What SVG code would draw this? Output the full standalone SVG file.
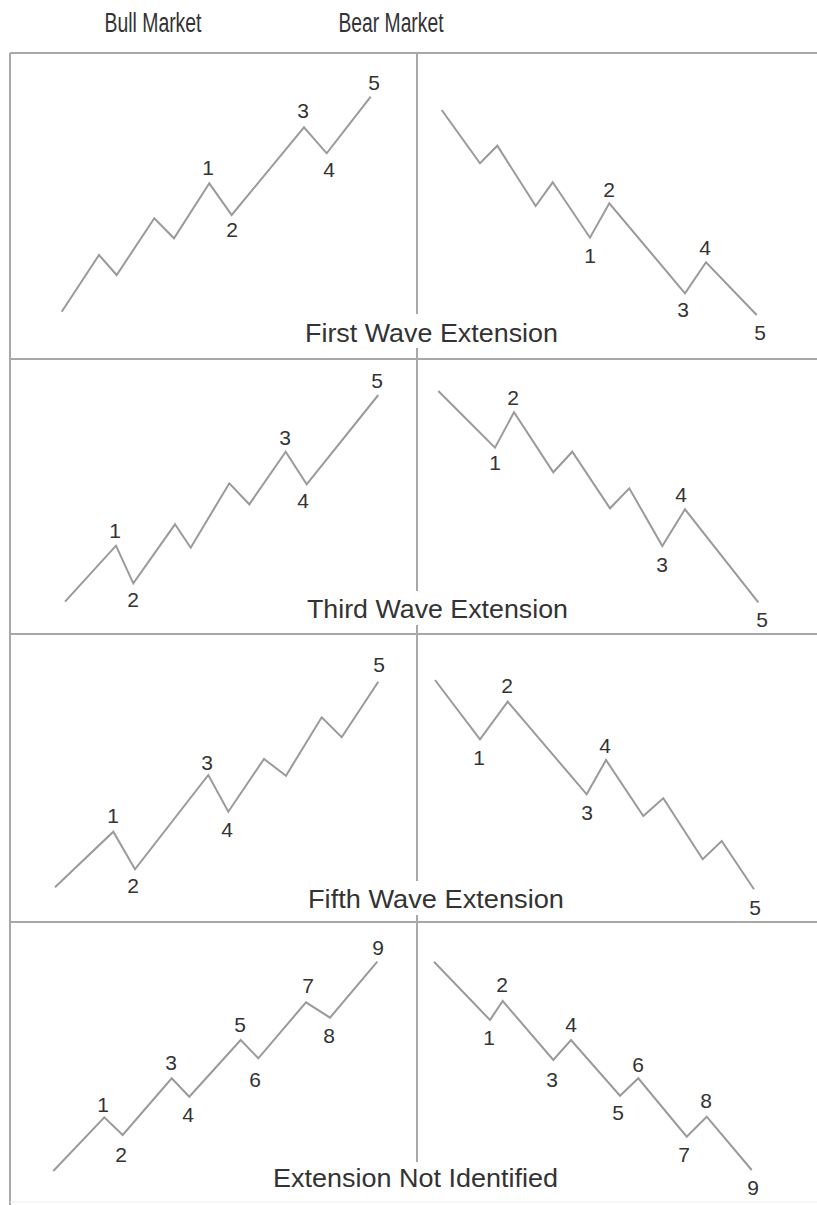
<svg xmlns="http://www.w3.org/2000/svg" width="817" height="1205" viewBox="0 0 817 1205">
<style>
.frame{stroke:#a8a8a8;stroke-width:2;fill:none}
.wave{stroke:#9a9a9a;stroke-width:2;fill:none;stroke-linejoin:miter}
.num{font-family:"Liberation Sans",Arial,sans-serif;font-size:21px;fill:#333;text-anchor:middle}
.hdr{font-family:"Liberation Sans",Arial,sans-serif;font-size:27px;fill:#333;text-anchor:middle}
.cap{font-family:"Liberation Sans",Arial,sans-serif;font-size:26px;fill:#333;text-anchor:middle}
.bg{fill:#fff}
</style>
<rect width="817" height="1205" fill="#fff"/>
<g id="frame">
<line class="frame" x1="10" y1="53" x2="817" y2="53"/>
<line class="frame" x1="10" y1="359" x2="817" y2="359"/>
<line class="frame" x1="10" y1="634" x2="817" y2="634"/>
<line class="frame" x1="10" y1="922" x2="817" y2="922"/>
<line class="frame" x1="10" y1="53" x2="10" y2="1205"/>
<line class="frame" x1="417" y1="53" x2="417" y2="1162"/>
<line x1="10" y1="1202" x2="817" y2="1202" stroke="#eee" stroke-width="1"/>
</g>
<g id="headers">
<text class="hdr" x="153" y="32" textLength="97" lengthAdjust="spacingAndGlyphs">Bull Market</text>
<text class="hdr" x="391" y="32" textLength="105" lengthAdjust="spacingAndGlyphs">Bear Market</text>
</g>
<g id="captions">
<rect class="bg" x="296" y="314" width="272" height="34"/>
<text class="cap" x="431.5" y="341.7" textLength="253" lengthAdjust="spacingAndGlyphs">First Wave Extension</text>
<rect class="bg" x="298" y="591" width="278" height="34"/>
<text class="cap" x="437.5" y="618.3" textLength="261" lengthAdjust="spacingAndGlyphs">Third Wave Extension</text>
<rect class="bg" x="300" y="881" width="272" height="34"/>
<text class="cap" x="436" y="908.3" textLength="256" lengthAdjust="spacingAndGlyphs">Fifth Wave Extension</text>
<rect class="bg" x="265" y="1162" width="302" height="34"/>
<text class="cap" x="415.5" y="1186.7" textLength="285" lengthAdjust="spacingAndGlyphs">Extension Not Identified</text>
</g>
<g id="connectors">
<polyline class="wave" points="61.7,311.7 99,255 116.7,275 154.3,218.3 174,238.3 209.3,183.3 231.7,215 304,127.3 326.7,153.3 370.7,96.7"/>
<polyline class="wave" points="441.7,110 480,163.3 497.3,145.7 535.7,206 552.7,182.3 590,237.7 609.3,203.3 685,293.3 706,262.3 756.7,315"/>
<polyline class="wave" points="65,601.7 116,545.7 133.3,583.3 175,524.3 190.7,547.7 229.3,483.3 249.3,504.3 285.7,451.7 306.7,484.3 378.3,395"/>
<polyline class="wave" points="438.3,391 495,447.7 514,412.3 553.3,472.3 572.3,451.7 610,508.3 629.3,488.3 662.3,546 685,509.3 758.3,602.3"/>
<polyline class="wave" points="55,887.3 113.3,831.7 135,869.3 208.3,775 228.3,811.7 264,759 286,775.7 321.7,717.3 341.7,737.3 378.3,681.7"/>
<polyline class="wave" points="435,680 480,739.3 507.7,701.7 586.7,794.3 606,760 643.3,816 663.3,798.3 702.7,859.3 721.7,841 754,889.3"/>
<polyline class="wave" points="53.3,1171 104.3,1117.3 122.7,1135 171.7,1078.3 189.3,1096.7 240.7,1040 258.3,1058.3 306,1002.3 330,1017.7 377.3,961.7"/>
<polyline class="wave" points="434,961.7 490,1020 502.7,1001 553.3,1060 571,1040 620,1095.7 638.3,1078.3 686.7,1136.7 706.7,1116.7 751.7,1170"/>
</g>
<g id="bull-first">
<text class="num" x="208" y="175">1</text>
<text class="num" x="232" y="237">2</text>
<text class="num" x="303" y="118">3</text>
<text class="num" x="329" y="177">4</text>
<text class="num" x="374" y="90">5</text>
</g>
<g id="bear-first">
<text class="num" x="590" y="263">1</text>
<text class="num" x="609" y="197">2</text>
<text class="num" x="683" y="317">3</text>
<text class="num" x="705" y="255">4</text>
<text class="num" x="760" y="340">5</text>
</g>
<g id="bull-third">
<text class="num" x="115" y="538">1</text>
<text class="num" x="133" y="607">2</text>
<text class="num" x="285" y="445">3</text>
<text class="num" x="303" y="508">4</text>
<text class="num" x="377" y="388">5</text>
</g>
<g id="bear-third">
<text class="num" x="495" y="470">1</text>
<text class="num" x="513" y="405">2</text>
<text class="num" x="662" y="572">3</text>
<text class="num" x="681" y="502">4</text>
<text class="num" x="762" y="627">5</text>
</g>
<g id="bull-fifth">
<text class="num" x="113" y="823">1</text>
<text class="num" x="133" y="893">2</text>
<text class="num" x="207" y="770">3</text>
<text class="num" x="227" y="837">4</text>
<text class="num" x="379" y="672">5</text>
</g>
<g id="bear-fifth">
<text class="num" x="479" y="765">1</text>
<text class="num" x="507" y="693">2</text>
<text class="num" x="587" y="820">3</text>
<text class="num" x="605" y="753">4</text>
<text class="num" x="755" y="915">5</text>
</g>
<g id="bull-none">
<text class="num" x="103" y="1112">1</text>
<text class="num" x="121" y="1162">2</text>
<text class="num" x="171" y="1070">3</text>
<text class="num" x="188" y="1122">4</text>
<text class="num" x="240" y="1032">5</text>
<text class="num" x="255" y="1087">6</text>
<text class="num" x="308" y="993">7</text>
<text class="num" x="329" y="1043">8</text>
<text class="num" x="378" y="955">9</text>
</g>
<g id="bear-none">
<text class="num" x="489" y="1045">1</text>
<text class="num" x="502" y="992">2</text>
<text class="num" x="552" y="1087">3</text>
<text class="num" x="571" y="1032">4</text>
<text class="num" x="618" y="1120">5</text>
<text class="num" x="638" y="1072">6</text>
<text class="num" x="684" y="1162">7</text>
<text class="num" x="706" y="1108">8</text>
<text class="num" x="753" y="1195">9</text>
</g>
</svg>
